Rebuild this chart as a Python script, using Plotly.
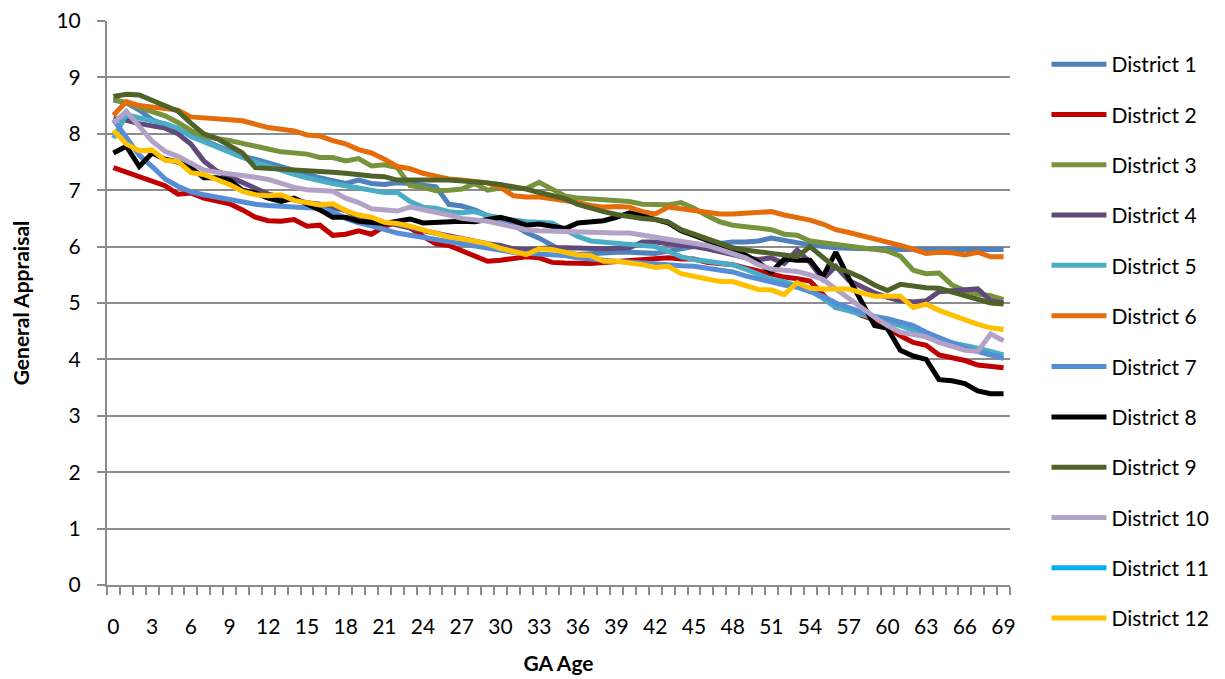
import plotly.graph_objects as go

ages = list(range(70))
tick_vals = list(range(0, 70, 3))
tick_text = [str(v) for v in tick_vals]

district_names = [f"District {i}" for i in range(1, 13)]
colors = ["#4F81BD", "#C00000", "#77933C", "#604A7B", "#4BACC6", "#E46C0A",
          "#558ED5", "#000000", "#4F6228", "#B3A2C7", "#00B0F0", "#FFC000"]

d1 = [8.6, 8.55, 8.42, 8.25, 8.15, 8.08, 7.98, 7.88, 7.78, 7.68, 7.6, 7.55, 7.48, 7.42, 7.35, 7.28, 7.22, 7.17, 7.12, 7.18,
      7.12, 7.1, 7.13, 7.12, 7.1, 7.06, 6.75, 6.72, 6.65, 6.55, 6.45, 6.38, 6.25, 6.15, 6.02, 5.9, 5.86, 5.88, 5.9, 5.9,
      5.9, 5.88, 5.88, 5.92, 5.97, 6.0, 6.03, 6.06, 6.08, 6.08, 6.1, 6.15, 6.12, 6.07, 6.03, 6.0, 5.98, 5.97, 5.96, 5.96,
      5.96, 5.95, 5.95, 5.95, 5.95, 5.95, 5.95, 5.95, 5.95, 5.95]
d2 = [7.4, 7.32, 7.24, 7.16, 7.08, 6.93, 6.95, 6.86, 6.82, 6.76, 6.65, 6.52, 6.46, 6.45, 6.48, 6.36, 6.38, 6.2, 6.22, 6.28,
      6.22, 6.36, 6.43, 6.33, 6.18, 6.05, 6.02, 5.92, 5.82, 5.74, 5.76, 5.8, 5.82, 5.8, 5.72, 5.71, 5.7, 5.7, 5.72, 5.74,
      5.75, 5.78, 5.8, 5.8, 5.78, 5.78, 5.72, 5.7, 5.68, 5.62, 5.56, 5.5, 5.46, 5.43, 5.39, 5.15, 4.92, 4.9, 4.78, 4.7,
      4.55, 4.42, 4.3, 4.25, 4.08, 4.04, 3.98, 3.9, 3.87, 3.85]
d3 = [8.62, 8.55, 8.46, 8.39, 8.32, 8.2, 8.06, 7.95, 7.92, 7.88, 7.83, 7.77, 7.73, 7.68, 7.67, 7.64, 7.58, 7.58, 7.52, 7.56,
      7.43, 7.45, 7.4, 7.08, 7.05, 6.99, 7.0, 7.02, 7.12, 7.0, 7.04, 7.04, 7.03, 7.14, 7.03, 6.9, 6.86, 6.84, 6.82, 6.82,
      6.8, 6.75, 6.74, 6.74, 6.78, 6.68, 6.55, 6.44, 6.38, 6.36, 6.34, 6.3, 6.22, 6.2, 6.1, 6.07, 6.05, 6.02, 5.98, 5.96,
      5.92, 5.83, 5.58, 5.52, 5.53, 5.32, 5.22, 5.16, 5.13, 5.06]
d4 = [8.27, 8.24, 8.18, 8.14, 8.1, 8.0, 7.82, 7.52, 7.34, 7.24, 7.13, 7.02, 6.93, 6.88, 6.82, 6.78, 6.75, 6.7, 6.64, 6.52,
      6.48, 6.42, 6.38, 6.33, 6.28, 6.24, 6.2, 6.15, 6.1, 6.05, 6.02, 5.96, 5.95, 5.97, 5.98, 5.98, 5.97, 5.96, 5.96, 5.97,
      5.98, 6.08, 6.08, 6.05, 6.03, 6.0, 5.96, 5.92, 5.86, 5.8, 5.77, 5.8, 5.7, 5.94, 5.72, 5.42, 5.65, 5.4, 5.28, 5.18,
      5.1, 5.04, 5.02, 5.04, 5.2, 5.22, 5.22, 5.25, 5.04, 5.0]
d5 = [7.92, 8.34, 8.28, 8.24, 8.18, 8.1, 7.95, 7.86, 7.76, 7.66, 7.58, 7.5, 7.42, 7.36, 7.28, 7.22, 7.16, 7.12, 7.08, 7.05,
      7.0, 6.96, 6.96, 6.8, 6.7, 6.68, 6.62, 6.6, 6.62, 6.55, 6.5, 6.47, 6.44, 6.42, 6.42, 6.3, 6.18, 6.1, 6.08, 6.06,
      6.06, 6.04, 6.0, 5.92, 5.82, 5.77, 5.74, 5.72, 5.68, 5.6, 5.52, 5.42, 5.38, 5.3, 5.22, 5.08, 4.92, 4.86, 4.8, 4.74,
      4.68, 4.6, 4.52, 4.4, 4.34, 4.3, 4.24, 4.2, 4.14, 4.08]
d6 = [8.33, 8.57, 8.5, 8.47, 8.46, 8.42, 8.3, 8.29, 8.26, 8.25, 8.23, 8.17, 8.11, 8.08, 8.05, 7.98, 7.96, 7.88, 7.82, 7.72,
      7.66, 7.55, 7.42, 7.38, 7.3, 7.25, 7.2, 7.18, 7.15, 7.13, 7.05, 6.9, 6.88, 6.88, 6.85, 6.82, 6.78, 6.73, 6.7, 6.71,
      6.7, 6.62, 6.58, 6.7, 6.67, 6.64, 6.6, 6.58, 6.58, 6.6, 6.6, 6.62, 6.56, 6.52, 6.47, 6.4, 6.3, 6.25, 6.2, 6.14,
      6.08, 6.02, 5.95, 5.88, 5.9, 5.89, 5.85, 5.9, 5.82, 5.82]
d7 = [8.25, 7.95, 7.62, 7.42, 7.2, 7.07, 6.97, 6.92, 6.88, 6.84, 6.78, 6.75, 6.73, 6.71, 6.7, 6.69, 6.68, 6.62, 6.5, 6.42,
      6.37, 6.3, 6.24, 6.2, 6.16, 6.12, 6.08, 6.04, 6.01, 5.97, 5.94, 5.9, 5.88, 5.87, 5.85, 5.84, 5.8, 5.77, 5.76, 5.74,
      5.72, 5.7, 5.68, 5.67, 5.66, 5.65, 5.62, 5.58, 5.55, 5.48, 5.42, 5.37, 5.32, 5.28, 5.2, 5.12, 5.0, 4.92, 4.84, 4.76,
      4.72, 4.66, 4.6, 4.48, 4.38, 4.28, 4.2, 4.14, 4.08, 4.02]
d8 = [7.66, 7.78, 7.42, 7.66, 7.55, 7.5, 7.4, 7.22, 7.22, 7.18, 7.0, 6.95, 6.86, 6.8, 6.86, 6.76, 6.65, 6.52, 6.52, 6.45,
      6.42, 6.41, 6.45, 6.49, 6.42, 6.43, 6.46, 6.45, 6.44, 6.48, 6.52, 6.46, 6.38, 6.4, 6.36, 6.32, 6.42, 6.44, 6.46, 6.52,
      6.6, 6.54, 6.48, 6.42, 6.28, 6.2, 6.12, 6.02, 5.95, 5.85, 5.72, 5.55, 5.78, 5.76, 5.76, 5.47, 5.9, 5.44, 5.0, 4.6,
      4.55, 4.16, 4.06, 4.0, 3.64, 3.62, 3.57, 3.44, 3.39, 3.39]
d9 = [8.66, 8.7, 8.69, 8.6, 8.5, 8.4, 8.19, 8.0, 7.92, 7.8, 7.66, 7.4, 7.39, 7.37, 7.35, 7.34, 7.33, 7.32, 7.3, 7.27,
      7.25, 7.24, 7.18, 7.18, 7.17, 7.18, 7.18, 7.17, 7.15, 7.13, 7.1, 7.07, 7.02, 6.96, 6.9, 6.85, 6.75, 6.68, 6.62, 6.57,
      6.53, 6.5, 6.48, 6.44, 6.3, 6.22, 6.15, 6.08, 5.98, 5.94, 5.9, 5.88, 5.85, 5.82, 6.0, 5.8, 5.62, 5.55, 5.45, 5.32,
      5.22, 5.33, 5.29, 5.27, 5.26, 5.2, 5.13, 5.06, 5.0, 4.98]
d10 = [8.19, 8.4, 8.13, 7.87, 7.69, 7.6, 7.48, 7.36, 7.32, 7.3, 7.26, 7.23, 7.19, 7.12, 7.05, 7.01, 6.99, 6.98, 6.86, 6.78,
       6.67, 6.64, 6.63, 6.7, 6.66, 6.62, 6.56, 6.5, 6.48, 6.45, 6.4, 6.35, 6.3, 6.28, 6.27, 6.26, 6.26, 6.26, 6.25, 6.24,
       6.24, 6.2, 6.17, 6.12, 6.08, 6.05, 6.02, 5.95, 5.88, 5.8, 5.68, 5.6, 5.58, 5.56, 5.5, 5.42, 5.25, 5.08, 4.92, 4.75,
       4.6, 4.48, 4.44, 4.4, 4.3, 4.22, 4.16, 4.14, 4.45, 4.33]
d11 = [None] * 70
d12 = [8.06, 7.82, 7.7, 7.71, 7.53, 7.51, 7.31, 7.28, 7.19, 7.1, 6.98, 6.92, 6.9, 6.92, 6.82, 6.78, 6.74, 6.76, 6.64, 6.56,
       6.52, 6.43, 6.41, 6.36, 6.3, 6.24, 6.17, 6.14, 6.1, 6.05, 5.97, 5.92, 5.86, 5.96, 5.95, 5.9, 5.85, 5.84, 5.74, 5.74,
       5.72, 5.68, 5.63, 5.65, 5.52, 5.47, 5.44, 5.38, 5.38, 5.32, 5.24, 5.23, 5.15, 5.36, 5.26, 5.25, 5.26, 5.25, 5.18, 5.12,
       5.12, 5.12, 4.92, 4.98, 4.87, 4.78, 4.7, 4.62, 4.56, 4.53]

series = [d1, d2, d3, d4, d5, d6, d7, d8, d9, d10, d11, d12]

FONT = "Lato, 'Open Sans', sans-serif"

fig = go.Figure()
for idx, (name, color, vals) in enumerate(zip(district_names, colors, series)):
    fig.add_trace(go.Scatter(
        x=ages, y=vals, name=name, mode="lines", legendgroup=name,
        legend="legend" if idx < 6 else "legend2",
        line=dict(color=color, width=5),
    ))

grid_col = "#8C8C8C"
legend_common = dict(
    xanchor="left", yanchor="top",
    traceorder="grouped", tracegroupgap=20,
    itemwidth=55, font=dict(family=FONT, size=21, color="#000000"),
    bgcolor="rgba(0,0,0,0)",
)
fig.update_layout(
    width=1225, height=679,
    margin=dict(l=99, r=223, t=13, b=102, autoexpand=False),
    paper_bgcolor="white", plot_bgcolor="white",
    font=dict(family=FONT, size=21, color="#000000"),
    showlegend=True,
    legend=dict(x=1.0404, y=0.9592, **legend_common),
    legend2=dict(x=1.0404, y=0.423, **legend_common),
    xaxis=dict(
        range=[-0.5, 69.5], tickmode="array", tickvals=tick_vals, ticktext=tick_text,
        showgrid=False, zeroline=False, showline=True, linecolor=grid_col, linewidth=2,
        ticks="", ticklabelstandoff=22, automargin=False, ticklabeloverflow="allow",
        minor=dict(tick0=-0.5, dtick=1, ticks="outside", ticklen=8, tickcolor=grid_col, tickwidth=2, showgrid=False),
        title=dict(text="<b>GA Age</b>", font=dict(family=FONT, size=21), standoff=19),
        tickfont=dict(family=FONT, size=21),
    ),
    yaxis=dict(
        range=[0, 10], dtick=1, tick0=0, automargin=False, ticklabeloverflow="allow",
        showgrid=True, gridcolor=grid_col, gridwidth=2,
        zeroline=False, showline=True, linecolor=grid_col, linewidth=2,
        ticks="outside", ticklen=8, tickcolor=grid_col, tickwidth=2, ticklabelstandoff=12,
        title=dict(text="<b>General Appraisal</b>", font=dict(family=FONT, size=21), standoff=34),
        tickfont=dict(family=FONT, size=21),
    ),
)

fig.write_html("out.html")
